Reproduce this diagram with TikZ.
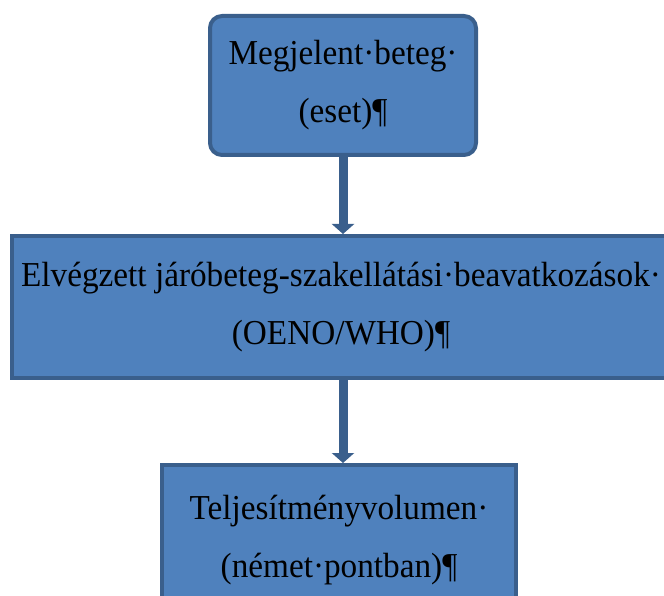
\documentclass[tikz,border=0pt]{standalone}
\usepackage{fontspec}
\setmainfont[FakeStretch=0.95]{Liberation Serif}
\usetikzlibrary{arrows.meta}
\definecolor{boxfill}{HTML}{4F81BD}
\definecolor{boxline}{HTML}{3A5F8C}
\tikzset{
  box/.style={draw=boxline, fill=boxfill, line width=4pt, align=center, inner sep=0pt,
    font=\fontsize{35}{58}\selectfont},
  flow/.style={draw=boxline, line width=9pt, -{Triangle[width=22pt,length=10pt]}}
}

\begin{document}
\begin{tikzpicture}[x=1pt,y=-1pt]
	\useasboundingbox (0,0) rectangle (664,596);
	\clip (0,0) rectangle (664,596);
	\node[box, rounded corners=12pt, minimum width=266pt, minimum height=139pt] (eset) at (343,85.5) {Megjelent·beteg·\\(eset)¶};
	\node[box, minimum width=658pt, minimum height=142pt] (beavatkozas) at (341,307) {Elvégzett járóbeteg-szakellátási·beavatkozások·\\(OENO/WHO)¶};
	\node[box, minimum width=354pt, minimum height=151pt] (volumen) at (339,540.5) {Teljesítményvolumen·\\(német·pontban)¶};
	\draw[flow] (eset.south) -- (eset.south |- beavatkozas.north);
	\draw[flow] (eset.south |- beavatkozas.south) -- (eset.south |- volumen.north);
\end{tikzpicture}
\end{document}
